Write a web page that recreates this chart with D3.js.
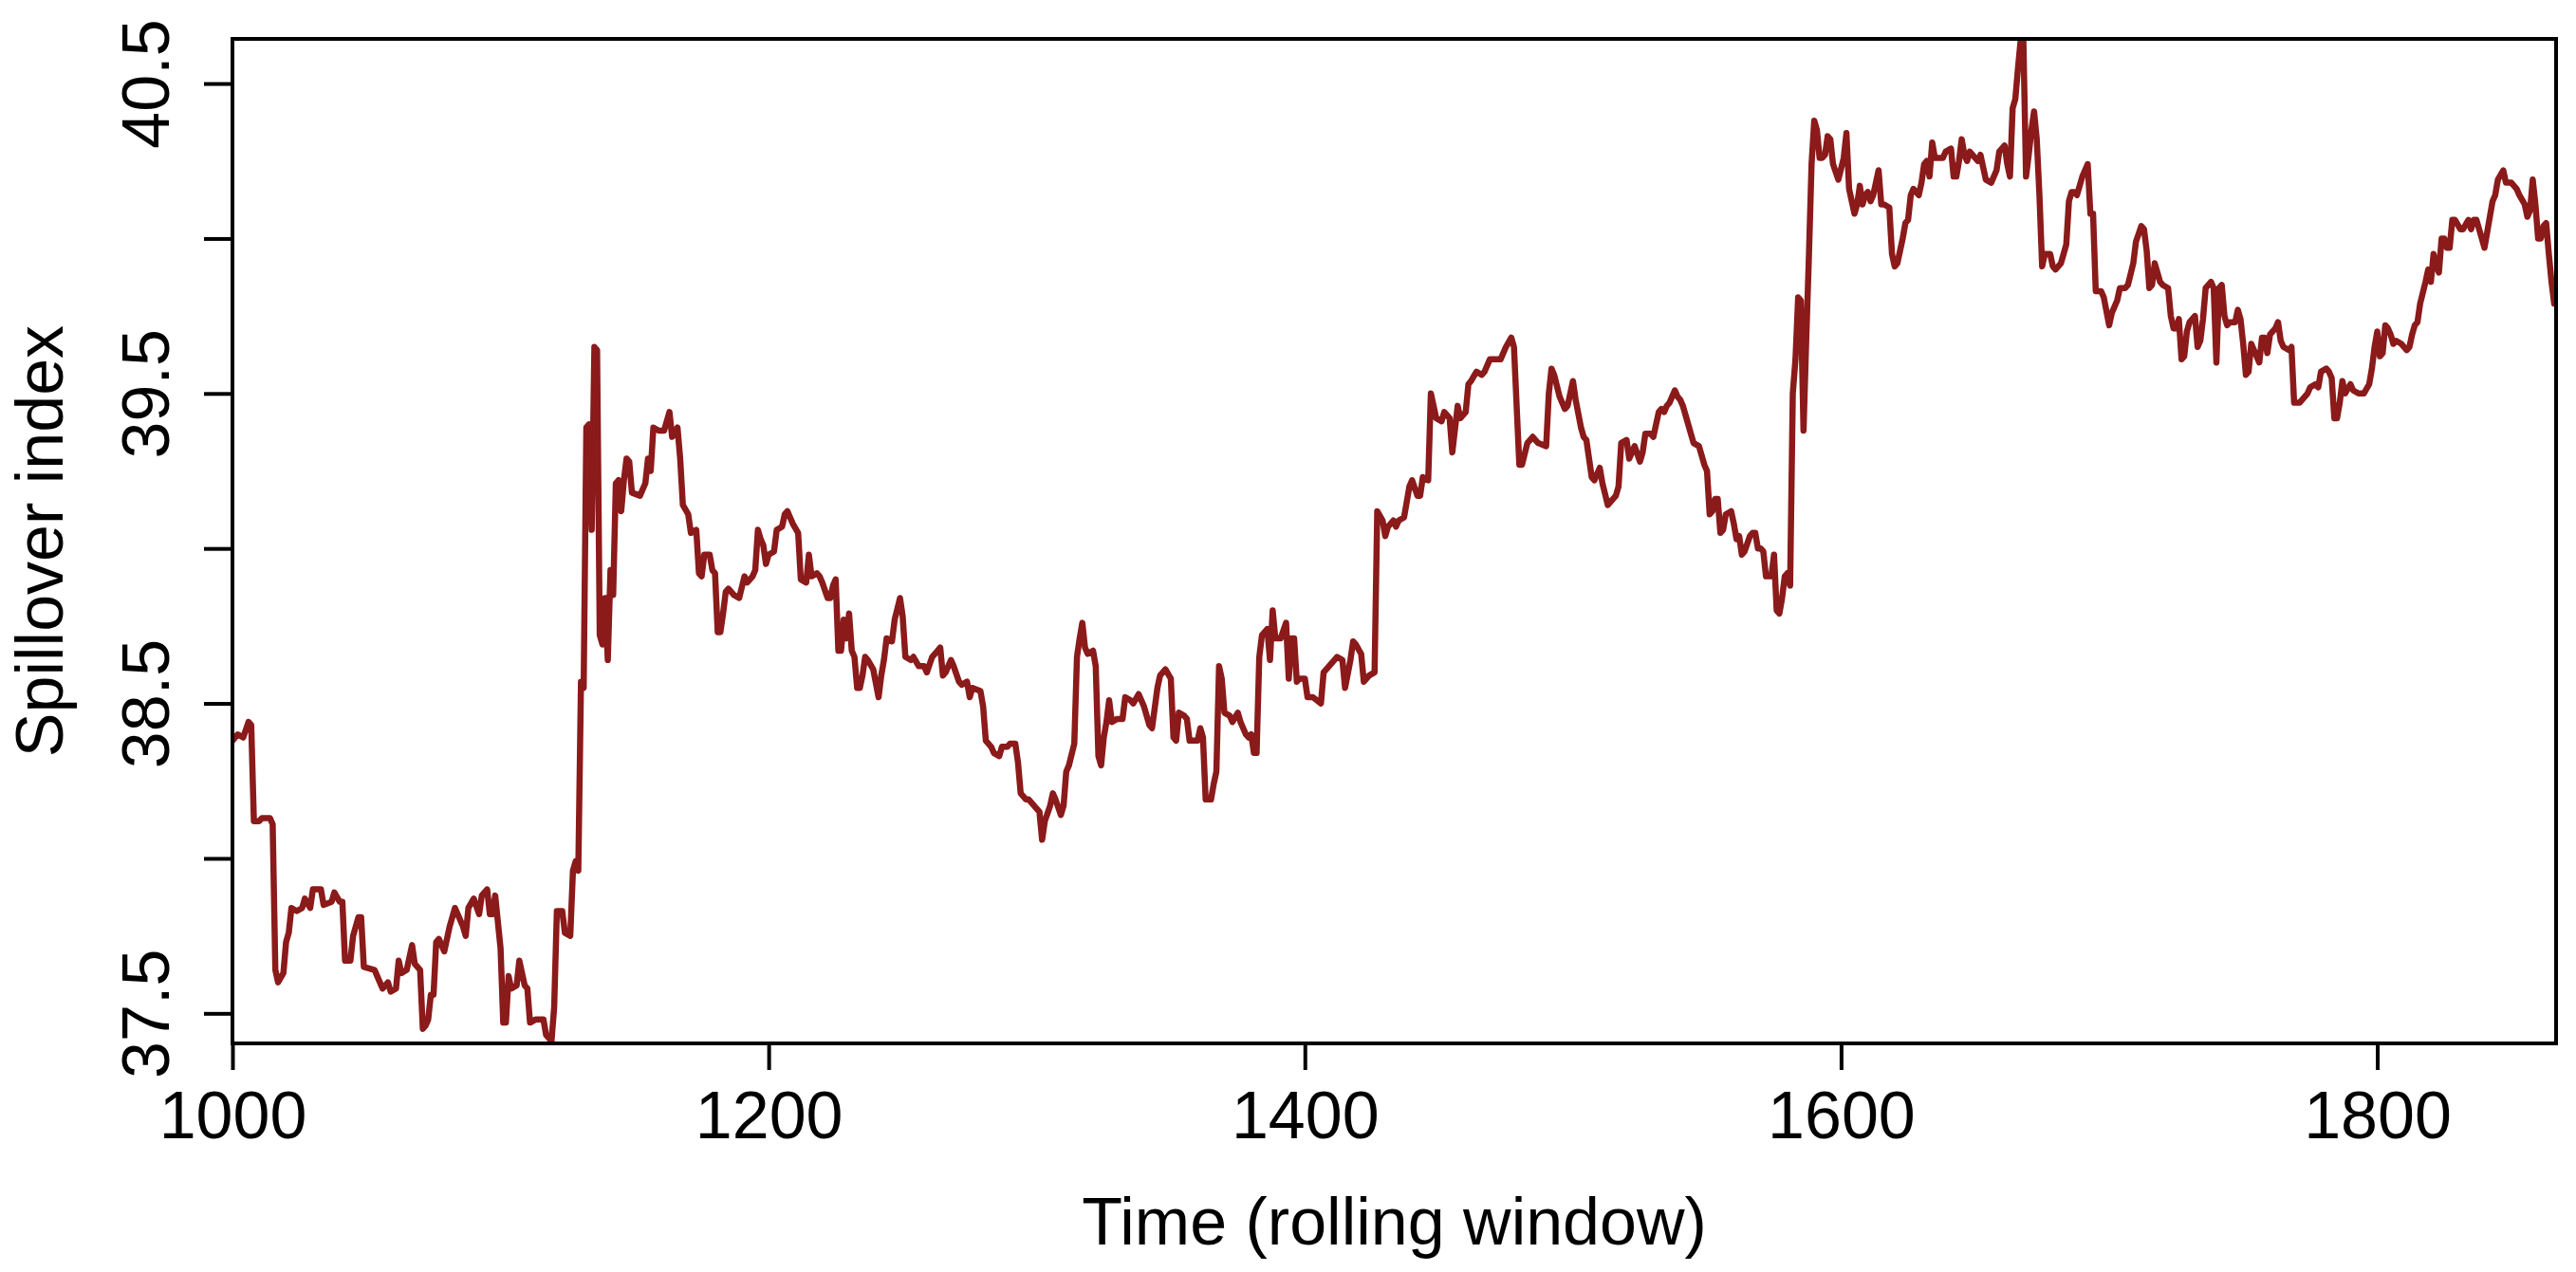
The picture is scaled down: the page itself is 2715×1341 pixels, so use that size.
<!DOCTYPE html>
<html>
<head>
<meta charset="utf-8">
<script src="https://cdn.jsdelivr.net/npm/d3@7"></script>
<style>
  body { margin: 0; background: #ffffff; }
  svg { display: block; font-family: "Liberation Sans", Arial, Helvetica, sans-serif; }
</style>
</head>
<body>
<svg></svg>
<script>
// Tick values
let xTicks = [1000, 1200, 1400, 1600, 1800];
let yTicks = [37.5, 38, 38.5, 39, 39.5, 40, 40.5];
let yLabelTicks = [37.5, 38.5, 39.5, 40.5];   // R drops the labels that would overlap

let xTitle = "Time (rolling window)";
let yTitle = "Spillover index";

// Rolling window index and spillover index
let spilloverSeries = [
  [1000,38.38],[1002,38.40],[1004,38.39],[1006,38.44],[1007,38.43],[1008,38.12],[1010,38.12],[1011,38.13],[1014,38.13],[1015,38.11],
  [1016,37.64],[1017,37.60],[1019,37.63],[1020,37.73],[1021,37.76],[1022,37.84],[1024,37.83],[1026,37.84],[1027,37.87],[1029,37.84],
  [1030,37.90],[1033,37.90],[1034,37.85],[1037,37.86],[1038,37.89],[1040,37.86],[1041,37.86],[1042,37.67],[1044,37.67],[1045,37.75],
  [1047,37.81],[1048,37.81],[1049,37.65],[1053,37.64],[1054,37.62],[1056,37.58],[1058,37.60],[1059,37.57],[1061,37.58],[1062,37.67],
  [1063,37.63],[1065,37.64],[1067,37.72],[1068,37.66],[1070,37.64],[1071,37.45],[1072,37.46],[1073,37.48],[1074,37.56],[1075,37.56],
  [1076,37.73],[1077,37.74],[1079,37.70],[1081,37.78],[1083,37.84],[1084,37.82],[1086,37.78],[1087,37.75],[1088,37.84],[1090,37.87],
  [1092,37.82],[1093,37.88],[1095,37.90],[1096,37.82],[1097,37.82],[1098,37.88],[1100,37.71],[1101,37.47],[1102,37.47],[1103,37.62],
  [1104,37.58],[1106,37.59],[1107,37.67],[1109,37.59],[1110,37.58],[1111,37.47],[1113,37.48],[1116,37.48],[1117,37.43],[1119,37.41],
  [1120,37.52],[1121,37.83],[1123,37.83],[1124,37.76],[1126,37.75],[1127,37.96],[1128,37.99],[1129,37.96],[1130,38.57],[1131,38.55],
  [1132,39.39],[1133,39.40],[1134,39.06],[1135,39.65],[1136,39.64],[1137,38.72],[1138,38.69],[1139,38.84],[1140,38.64],[1141,38.93],
  [1142,38.85],[1143,39.21],[1144,39.22],[1145,39.12],[1146,39.22],[1147,39.29],[1148,39.28],[1149,39.18],[1152,39.17],[1154,39.21],
  [1155,39.29],[1156,39.25],[1157,39.39],[1159,39.38],[1161,39.38],[1163,39.44],[1164,39.36],[1166,39.39],[1167,39.29],[1168,39.14],
  [1170,39.11],[1171,39.05],[1173,39.06],[1174,38.92],[1175,38.91],
  [1176,38.98],[1178,38.98],[1179,38.93],[1180,38.92],[1181,38.73],[1182,38.73],[1183,38.79],[1184,38.86],[1185,38.87],[1187,38.85],
  [1189,38.84],[1191,38.91],[1192,38.89],[1194,38.91],[1195,38.93],[1196,39.06],[1197,39.03],[1198,39.01],[1199,38.95],[1200,38.98],
  [1202,38.99],[1203,39.06],[1205,39.07],[1206,39.11],[1207,39.12],[1209,39.08],[1211,39.05],[1212,38.90],[1214,38.89],[1215,38.98],
  [1216,38.91],[1218,38.92],[1219,38.91],[1220,38.89],[1222,38.84],[1223,38.84],[1224,38.88],[1225,38.90],[1226,38.67],[1227,38.67],
  [1228,38.77],[1229,38.71],[1230,38.79],[1231,38.67],[1232,38.65],[1233,38.55],[1234,38.55],[1235,38.59],[1236,38.65],[1237,38.64],
  [1239,38.61],[1241,38.52],[1242,38.59],[1243,38.64],[1244,38.71],[1246,38.70],[1247,38.77],[1249,38.84],[1250,38.78],[1251,38.65],
  [1253,38.64],[1254,38.65],[1256,38.62],[1258,38.62],[1259,38.60],[1261,38.65],[1263,38.67],[1264,38.68],[1265,38.59],[1266,38.60],
  [1268,38.64],[1269,38.62],[1271,38.57],[1272,38.56],[1274,38.57],[1275,38.52],[1276,38.55],[1279,38.54],[1280,38.49],[1281,38.38],
  [1283,38.36],[1284,38.34],[1286,38.33],[1287,38.36],[1289,38.36],[1290,38.37],[1292,38.37],[1293,38.31],[1294,38.21],[1296,38.19],
  [1297,38.19],[1299,38.17],[1301,38.15],[1302,38.06],[1303,38.12],[1305,38.17],[1306,38.21],[1307,38.19],[1309,38.14],[1310,38.17],
  [1311,38.28],[1312,38.30],[1314,38.37],[1315,38.65],[1316,38.71],[1317,38.76],[1318,38.68],[1319,38.66],[1321,38.67],[1322,38.62],
  [1323,38.33],[1324,38.30],[1325,38.39],[1326,38.44],[1327,38.51],[1328,38.44],[1330,38.45],[1332,38.45],[1333,38.52],[1335,38.51],
  [1336,38.50],[1338,38.53],[1340,38.49],[1342,38.43],[1343,38.42],[1345,38.55],[1346,38.59],[1348,38.61],[1350,38.58],[1351,38.39],
  [1352,38.38],
  [1353,38.47],[1355,38.46],[1356,38.45],[1357,38.38],[1359,38.38],[1360,38.38],[1361,38.42],[1362,38.39],[1363,38.19],[1365,38.19],
  [1366,38.24],[1367,38.28],[1368,38.62],[1369,38.58],[1370,38.47],[1372,38.46],[1373,38.44],[1375,38.47],[1376,38.44],[1378,38.40],
  [1379,38.39],[1380,38.40],[1381,38.34],[1382,38.34],[1383,38.65],[1384,38.72],[1386,38.74],[1387,38.64],[1388,38.80],[1389,38.71],
  [1391,38.71],[1393,38.76],[1394,38.58],[1395,38.71],[1396,38.71],[1397,38.57],[1398,38.58],[1400,38.58],[1401,38.52],[1403,38.52],
  [1406,38.50],[1407,38.60],[1408,38.61],[1409,38.62],[1411,38.64],[1412,38.65],[1414,38.64],[1415,38.55],[1417,38.64],[1418,38.70],
  [1419,38.69],[1421,38.66],[1422,38.57],[1424,38.59],[1426,38.60],[1427,39.12],[1429,39.09],[1430,39.04],[1431,39.07],[1433,39.09],
  [1434,39.07],[1435,39.09],[1437,39.10],[1439,39.20],[1440,39.22],[1442,39.17],[1443,39.17],[1444,39.23],[1446,39.22],[1447,39.50],
  [1449,39.42],[1451,39.41],[1452,39.44],[1454,39.42],[1455,39.31],[1457,39.46],[1458,39.42],[1460,39.44],[1461,39.53],[1462,39.54],
  [1464,39.57],[1466,39.56],[1467,39.57],[1469,39.61],[1471,39.61],[1473,39.61],[1475,39.65],[1477,39.68],[1478,39.65],[1480,39.27],
  [1481,39.27],[1483,39.34],[1485,39.36],[1487,39.34],[1490,39.33],[1491,39.50],[1492,39.58],[1493,39.56],[1495,39.49],[1497,39.45],
  [1498,39.46],[1500,39.54],[1501,39.48],[1503,39.39],[1504,39.36],[1505,39.35],[1507,39.23],[1508,39.22],[1510,39.26],[1511,39.21],
  [1513,39.14],[1514,39.15],[1516,39.17],[1517,39.20],[1518,39.34],[1520,39.35],[1521,39.29],[1523,39.33],[1525,39.28],[1526,39.31],
  [1527,39.37],[1529,39.37],
  [1530,39.36],[1532,39.44],[1533,39.45],[1534,39.44],[1535,39.46],[1536,39.47],[1538,39.51],[1539,39.49],[1540,39.48],[1541,39.46],
  [1543,39.40],[1544,39.37],[1545,39.34],[1547,39.33],[1549,39.27],[1550,39.25],[1551,39.11],[1552,39.12],[1553,39.16],[1554,39.16],
  [1555,39.05],[1556,39.06],[1557,39.11],[1559,39.12],[1560,39.08],[1561,39.03],[1562,39.04],[1563,38.98],[1564,38.99],[1566,39.04],
  [1567,39.05],[1568,39.05],[1569,39.00],[1570,39.00],[1571,38.99],[1572,38.91],[1574,38.91],[1575,38.98],[1576,38.80],[1577,38.79],
  [1578,38.84],[1579,38.91],[1580,38.92],[1581,38.88],[1582,39.50],[1583,39.61],[1584,39.81],[1585,39.80],[1586,39.38],[1587,39.67],
  [1588,39.94],[1589,40.24],[1590,40.38],[1591,40.35],[1592,40.26],[1593,40.26],[1594,40.27],[1595,40.33],[1596,40.32],[1597,40.24],
  [1599,40.19],[1601,40.26],[1602,40.34],[1603,40.16],[1605,40.08],[1606,40.11],[1607,40.17],[1608,40.11],[1609,40.14],[1610,40.15],
  [1611,40.12],[1612,40.14],[1614,40.22],[1615,40.11],[1616,40.11],[1618,40.10],[1619,39.95],[1620,39.91],[1621,39.92],[1622,39.96],
  [1623,40.00],[1624,40.05],[1625,40.06],[1626,40.14],[1627,40.16],[1629,40.14],[1630,40.18],[1631,40.24],[1632,40.25],[1633,40.20],
  [1634,40.31],[1635,40.26],[1637,40.26],[1638,40.26],[1639,40.28],[1641,40.29],[1642,40.20],[1643,40.20],[1644,40.25],[1645,40.32],
  [1646,40.27],[1647,40.25],[1648,40.28],[1650,40.26],[1651,40.25],[1652,40.27],[1653,40.23],[1654,40.19],[1656,40.18],[1658,40.22],
  [1659,40.28],[1660,40.29],[1661,40.30],[1662,40.24],[1663,40.20],[1664,40.42],[1665,40.45],[1666,40.55],[1667,40.64],[1668,40.64],
  [1669,40.20],[1670,40.27],[1671,40.35],[1672,40.41],[1673,40.32],[1674,40.14],[1675,39.91],[1676,39.95],[1678,39.95],[1679,39.91],
  [1680,39.90],[1682,39.92],[1683,39.95],[1684,39.98],[1685,40.12],[1686,40.15],[1687,40.15],[1688,40.14],[1689,40.17],[1690,40.20],
  [1692,40.24],[1693,40.08],[1694,40.08],[1695,39.83],[1697,39.83],[1698,39.81],[1700,39.72],[1701,39.76],[1703,39.80],[1704,39.84],
  [1706,39.84],
  [1707,39.85],[1709,39.92],[1710,39.99],[1712,40.04],[1713,40.03],[1714,39.96],[1715,39.84],[1716,39.85],[1717,39.92],[1718,39.89],
  [1719,39.86],[1720,39.85],[1722,39.84],[1723,39.75],[1724,39.71],[1725,39.71],[1726,39.74],[1727,39.61],[1728,39.62],[1729,39.70],
  [1730,39.73],[1732,39.75],[1733,39.65],[1734,39.67],[1735,39.74],[1736,39.84],[1738,39.86],[1739,39.84],[1740,39.60],[1741,39.84],
  [1742,39.85],[1743,39.75],[1744,39.72],[1745,39.73],[1747,39.73],[1748,39.77],[1749,39.74],[1750,39.66],[1751,39.56],[1752,39.57],
  [1753,39.66],[1754,39.64],[1756,39.60],[1757,39.68],[1758,39.68],[1759,39.63],[1760,39.69],[1762,39.71],[1763,39.73],[1764,39.67],
  [1765,39.65],[1767,39.64],[1768,39.65],[1769,39.47],[1771,39.47],[1772,39.48],[1774,39.50],[1775,39.52],[1777,39.53],[1778,39.52],
  [1779,39.57],[1781,39.58],[1782,39.57],[1783,39.55],[1784,39.42],[1785,39.42],[1786,39.47],[1787,39.54],[1788,39.50],[1790,39.53],
  [1791,39.51],[1793,39.50],[1795,39.50],[1797,39.53],[1798,39.58],[1799,39.65],[1800,39.70],[1801,39.62],[1802,39.63],[1803,39.72],
  [1804,39.71],[1805,39.69],[1806,39.66],[1807,39.67],[1809,39.66],[1811,39.64],[1812,39.65],[1813,39.69],[1814,39.72],[1815,39.73],
  [1816,39.79],[1818,39.86],[1819,39.90],[1820,39.86],[1821,39.95],[1822,39.91],[1823,39.89],[1824,40.00],[1825,40.00],[1826,39.97],
  [1827,39.97],[1828,40.06],[1829,40.06],[1831,40.03],[1832,40.03],[1834,40.06],[1835,40.03],[1836,40.06],[1837,40.06],[1839,40.00],
  [1840,39.97],[1842,40.07],[1843,40.12],[1844,40.14],[1845,40.19],[1847,40.22],[1848,40.18],[1850,40.18],[1852,40.16],[1853,40.14],
  [1855,40.11],[1856,40.07],[1857,40.09],[1858,40.19],[1859,40.11],[1860,40.00],[1861,40.00],[1862,40.04],[1863,40.05],[1864,39.95],
  [1865,39.86],[1866,39.79]
];

let width = 2715;
let height = 1341;
let plotLeft = 245;
let plotRight = 2694;
let plotTop = 41;
let plotBottom = 1100;
let fontSize = 70;
let lineColor = "#8b1a1a";

let xScale;
let yScale;

let svg = d3.select("svg");

let drawCanvas = () => {
    svg.attr("width", width)
       .attr("height", height);

    svg.append("defs")
       .append("clipPath")
       .attr("id", "plot-clip")
       .append("rect")
       .attr("x", plotLeft)
       .attr("y", plotTop)
       .attr("width", plotRight - plotLeft)
       .attr("height", plotBottom - plotTop);
}

let generateScales = () => {
    // The axis runs exactly from the first window to the last one (no padding)
    xScale = d3.scaleLinear()
               .domain([1000, 1866.7])
               .range([plotLeft, plotRight]);

    // The y range is the data range: the line touches the top and bottom of the frame
    yScale = d3.scaleLinear()
               .domain([37.403, 40.644])
               .range([plotBottom, plotTop]);
}

let drawLine = () => {
    let line = d3.line()
                 .x((item) => xScale(item[0]))
                 .y((item) => yScale(item[1]));

    svg.append("path")
       .datum(spilloverSeries)
       .attr("clip-path", "url(#plot-clip)")
       .attr("fill", "none")
       .attr("stroke", lineColor)
       .attr("stroke-width", 6.5)
       .attr("stroke-linejoin", "round")
       .attr("stroke-linecap", "round")
       .attr("d", line);
}

let generateAxis = () => {
    let xAxis = d3.axisBottom(xScale)
                  .tickValues(xTicks)
                  .tickSize(28)
                  .tickPadding(22)
                  .tickFormat(d3.format("d"));

    let yAxis = d3.axisLeft(yScale)
                  .tickValues(yTicks)
                  .tickSize(30)
                  .tickFormat((value) => yLabelTicks.includes(value) ? d3.format(".1f")(value) : "");

    let xGroup = svg.append("g")
                    .attr("id", "x-axis")
                    .attr("transform", "translate(0, " + plotBottom + ")")
                    .call(xAxis);

    let yGroup = svg.append("g")
                    .attr("id", "y-axis")
                    .attr("transform", "translate(" + plotLeft + ", 0)")
                    .call(yAxis);

    [xGroup, yGroup].forEach((group) => {
        group.select(".domain").remove();
        group.selectAll(".tick line")
             .attr("stroke", "#000000")
             .attr("stroke-width", 4);
        group.selectAll(".tick text")
             .attr("fill", "#000000")
             .style("font-size", fontSize + "px")
             .style("font-family", "'Liberation Sans', Arial, Helvetica, sans-serif");
    });

    // y labels are written along the axis, reading upwards
    yGroup.selectAll(".tick text")
          .attr("x", null)
          .attr("dy", null)
          .attr("text-anchor", "middle")
          .attr("transform", "translate(-67, 0) rotate(-90)");

    // plot frame
    svg.append("rect")
       .attr("x", plotLeft)
       .attr("y", plotTop)
       .attr("width", plotRight - plotLeft)
       .attr("height", plotBottom - plotTop)
       .attr("fill", "none")
       .attr("stroke", "#000000")
       .attr("stroke-width", 4);
}

let drawTitles = () => {
    svg.append("text")
       .attr("x", (plotLeft + plotRight) / 2)
       .attr("y", 1312)
       .attr("text-anchor", "middle")
       .style("font-size", fontSize + "px")
       .text(xTitle);

    svg.append("text")
       .attr("transform", "translate(66, " + (plotTop + plotBottom) / 2 + ") rotate(-90)")
       .attr("text-anchor", "middle")
       .style("font-size", fontSize + "px")
       .text(yTitle);
}

drawCanvas();
generateScales();
drawLine();
generateAxis();
drawTitles();
</script>
</body>
</html>
